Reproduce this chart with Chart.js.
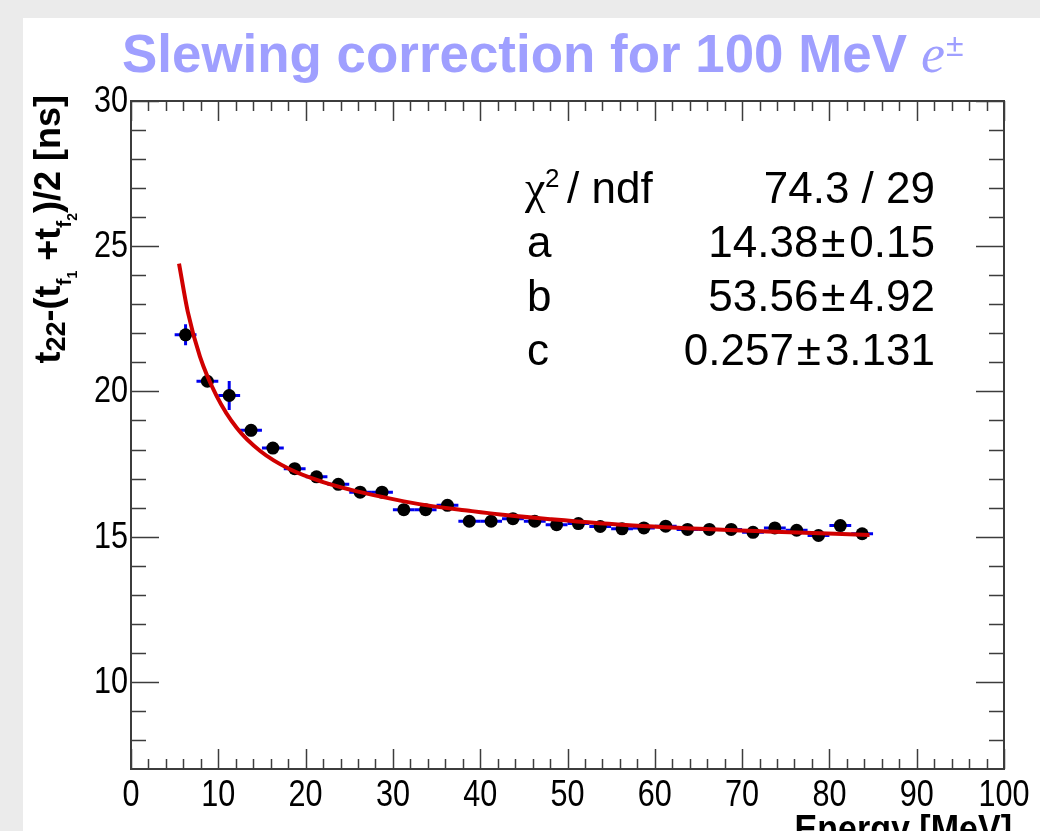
<!DOCTYPE html>
<html>
<head>
<meta charset="utf-8">
<script src="https://cdn.jsdelivr.net/npm/chart.js@4.4.0/dist/chart.umd.min.js"></script>
<style>
  html, body { margin: 0; padding: 0; background: #ebebeb; }
  #wrap { position: absolute; left: 0; top: 0; width: 1040px; height: 831px; }
</style>
</head>
<body>
<div id="wrap"><canvas id="slewChart" width="1040" height="831"></canvas></div>
<script>
// Measured points (bin centres in MeV, time difference in ns)
const energy = [6.25, 8.75, 11.25, 13.75, 16.25, 18.75, 21.25, 23.75, 26.25, 28.75,
                31.25, 33.75, 36.25, 38.75, 41.25, 43.75, 46.25, 48.75, 51.25, 53.75,
                56.25, 58.75, 61.25, 63.75, 66.25, 68.75, 71.25, 73.75, 76.25, 78.75,
                81.25, 83.75];
const delay = [21.95, 20.35, 19.86, 18.66, 18.05, 17.34, 17.06, 16.80, 16.53, 16.53,
               15.93, 15.93, 16.08, 15.53, 15.53, 15.62, 15.53, 15.41, 15.45, 15.35,
               15.27, 15.30, 15.36, 15.25, 15.25, 15.25, 15.15, 15.30, 15.22, 15.04,
               15.38, 15.10];
const energyErr = [1.25, 1.25, 1.25, 1.25, 1.25, 1.25, 1.25, 1.25, 1.25, 1.25,
                   1.25, 1.25, 1.25, 1.25, 1.25, 1.25, 1.25, 1.25, 1.25, 1.25,
                   1.25, 1.25, 1.25, 1.25, 1.25, 1.25, 1.25, 1.25, 1.25, 1.25,
                   1.25, 1.25];
const delayErr = [0.36, 0.2, 0.5, 0.2, 0.2, 0.15, 0.15, 0.15, 0.15, 0.15,
                  0.15, 0.15, 0.15, 0.15, 0.15, 0.15, 0.15, 0.15, 0.15, 0.15,
                  0.15, 0.15, 0.15, 0.15, 0.15, 0.15, 0.15, 0.15, 0.15, 0.15,
                  0.15, 0.15];

// Fit curve
const fitX = [5.5, 6.5, 7.9, 9.8, 12.1, 14.8, 18.2, 22.0, 25.1, 28.9, 33.0, 38.5, 42.3, 48.0, 57.5, 72.8, 84.6];
const fitY = [24.4, 22.75, 21.2, 19.85, 18.75, 17.95, 17.32, 16.88, 16.62, 16.36, 16.12, 15.9, 15.76, 15.6, 15.38, 15.18, 15.06];

// Axis ticks and texts
const xTicks = [0, 10, 20, 30, 40, 50, 60, 70, 80, 90, 100];
const yTicks = [10, 15, 20, 25, 30];
const statsLabels = ['ndf', 'a', 'b', 'c'];
const statsValues = [['74.3', '29'], ['14.38', '0.15'], ['53.56', '4.92'], ['0.257', '3.131']];

const SANS = '"Liberation Sans", Arial, sans-serif';
const SERIF = '"Liberation Serif", "Times New Roman", serif';

// draw text squeezed horizontally (the ROOT output looks narrow)
function narrowText(ctx, text, x, y, sx, align) {
    const w = ctx.measureText(text).width * sx;
    let left = x;
    if (align === 'center') left = x - w / 2;
    else if (align === 'right') left = x - w;
    ctx.save();
    ctx.translate(left, y);
    ctx.scale(sx, 1);
    ctx.textAlign = 'left';
    ctx.fillText(text, 0, 0);
    ctx.restore();
}

const rootStyle = {
    id: 'rootStyle',
    beforeDraw(chart) {
        const ctx = chart.ctx;
        ctx.save();
        ctx.fillStyle = '#ebebeb';
        ctx.fillRect(0, 0, chart.width, chart.height);
        ctx.fillStyle = '#ffffff';
        ctx.fillRect(23, 18, chart.width - 23, chart.height - 18);
        ctx.restore();
    },
    beforeDatasetsDraw(chart) {
        // blue error bars under the markers
        const ctx = chart.ctx;
        const xs = chart.scales.x, ys = chart.scales.y;
        ctx.save();
        ctx.strokeStyle = '#0000ee';
        ctx.lineWidth = 3;
        for (let i = 0; i < energy.length; i++) {
            const y = ys.getPixelForValue(delay[i]);
            const x = xs.getPixelForValue(energy[i]);
            ctx.beginPath();
            ctx.moveTo(xs.getPixelForValue(energy[i] - energyErr[i]), y);
            ctx.lineTo(xs.getPixelForValue(energy[i] + energyErr[i]), y);
            ctx.moveTo(x, ys.getPixelForValue(delay[i] - delayErr[i]));
            ctx.lineTo(x, ys.getPixelForValue(delay[i] + delayErr[i]));
            ctx.stroke();
        }
        ctx.restore();
    },
    afterDraw(chart) {
        const ctx = chart.ctx;
        const a = chart.chartArea;
        const xs = chart.scales.x, ys = chart.scales.y;
        ctx.save();

        // frame
        ctx.strokeStyle = '#3c3c3c';
        ctx.lineWidth = 2;
        ctx.strokeRect(a.left, a.top, a.right - a.left, a.bottom - a.top);

        // ticks on all four sides
        ctx.lineWidth = 1.5;
        ctx.beginPath();
        for (let v = 0; v <= 100; v += 2) {
            const x = Math.round(xs.getPixelForValue(v)) + 0.5;
            const len = (v % 10 === 0) ? 20 : 10;
            ctx.moveTo(x, a.bottom); ctx.lineTo(x, a.bottom - len);
            ctx.moveTo(x, a.top); ctx.lineTo(x, a.top + len);
        }
        for (let v = 8; v <= 30; v += 1) {
            const y = Math.round(ys.getPixelForValue(v)) + 0.5;
            const len = (v % 5 === 0) ? 28 : 15;
            ctx.moveTo(a.left, y); ctx.lineTo(a.left + len, y);
            ctx.moveTo(a.right, y); ctx.lineTo(a.right - len, y);
        }
        ctx.stroke();

        // tick labels
        ctx.fillStyle = '#000';
        ctx.font = '36px ' + SANS;
        ctx.textBaseline = 'top';
        xTicks.forEach(v => narrowText(ctx, String(v), xs.getPixelForValue(v), 778, 0.85, 'center'));
        ctx.textBaseline = 'middle';
        yTicks.forEach(v => narrowText(ctx, String(v), 128, ys.getPixelForValue(v) + 1, 0.85, 'right'));

        // x axis title
        ctx.font = 'bold 37px ' + SANS;
        ctx.textBaseline = 'top';
        narrowText(ctx, 'Energy [MeV]', 1012, 812, 0.92, 'right');

        // y axis title with subscripts
        const parts = [
            ['t', 36, 0], ['22', 27, 5], ['-(', 36, 0], ['t', 36, 0], ['f', 21, 11], ['1', 14, 17],
            [' +', 36, 0], ['t', 36, 0], ['f', 21, 11], ['2', 14, 17], [')/2 [ns]', 36, 0]
        ];
        let total = 0;
        parts.forEach(p => { ctx.font = 'bold ' + p[1] + 'px ' + SANS; total += ctx.measureText(p[0]).width; });
        ctx.save();
        ctx.translate(60, 95 + total);
        ctx.rotate(-Math.PI / 2);
        ctx.textAlign = 'left';
        ctx.textBaseline = 'alphabetic';
        let off = 0;
        parts.forEach(p => {
            ctx.font = 'bold ' + p[1] + 'px ' + SANS;
            ctx.fillText(p[0], off, p[2]);
            off += ctx.measureText(p[0]).width;
        });
        ctx.restore();

        // title
        const titleText = 'Slewing correction for 100 MeV';
        ctx.fillStyle = '#9f9fff';
        ctx.textBaseline = 'alphabetic';
        ctx.font = 'bold 54px ' + SANS;
        const sx = 785 / ctx.measureText(titleText).width;
        narrowText(ctx, titleText, 122, 72, sx, 'left');
        ctx.textAlign = 'left';
        ctx.font = 'italic 54px ' + SERIF;
        ctx.fillText('e', 921, 72);
        ctx.font = '32px ' + SANS;
        ctx.fillText('\u00b1', 946, 56);

        // fit statistics
        ctx.fillStyle = '#000';
        const base = [203, 257, 311, 365];
        ctx.font = '44px ' + SANS;
        ctx.textAlign = 'left';
        ctx.fillText('a', 527, base[1]);
        ctx.fillText('b', 527, base[2]);
        ctx.fillText('c', 527, base[3]);
        ctx.font = '46px ' + SERIF;
        ctx.fillText('\u03c7', 525, base[0]);
        ctx.font = '26px ' + SANS;
        ctx.fillText('2', 545, base[0] - 16);
        ctx.font = '44px ' + SANS;
        ctx.fillText('/ ' + statsLabels[0], 567, base[0]);

        ctx.textAlign = 'right';
        ctx.fillText(statsValues[0][0] + ' / ' + statsValues[0][1], 935, base[0]);
        for (let r = 1; r < 4; r++) {
            ctx.textAlign = 'right';
            ctx.fillText(statsValues[r][1], 935, base[r]);
            const w = ctx.measureText(statsValues[r][1]).width;
            ctx.textAlign = 'center';
            ctx.fillText('\u00b1', 935 - w - 16, base[r]);
            ctx.textAlign = 'right';
            ctx.fillText(statsValues[r][0], 935 - w - 31, base[r]);
        }
        ctx.restore();
    }
};

function createSlewChart() {
    const ctx = document.getElementById('slewChart').getContext('2d');
    new Chart(ctx, {
        type: 'scatter',
        data: {
            datasets: [{
                label: 'fit',
                data: fitX.map((x, i) => ({ x: x, y: fitY[i] })),
                showLine: true,
                borderColor: '#d00000',
                borderWidth: 4,
                pointRadius: 0,
                cubicInterpolationMode: 'monotone',
                fill: false
            }, {
                label: 'data',
                data: energy.map((x, i) => ({ x: x, y: delay[i] })),
                backgroundColor: '#000000',
                borderColor: '#000000',
                pointRadius: 6.5,
                pointBorderWidth: 0
            }]
        },
        options: {
            responsive: false,
            animation: false,
            devicePixelRatio: 1,
            layout: { padding: { left: 131, right: 36, top: 101, bottom: 62 } },
            plugins: { legend: { display: false }, tooltip: { enabled: false } },
            scales: {
                x: { type: 'linear', min: 0, max: 100, display: false },
                y: { type: 'linear', min: 7, max: 30, display: false }
            }
        },
        plugins: [rootStyle]
    });
}

document.addEventListener('DOMContentLoaded', createSlewChart);
</script>
</body>
</html>
